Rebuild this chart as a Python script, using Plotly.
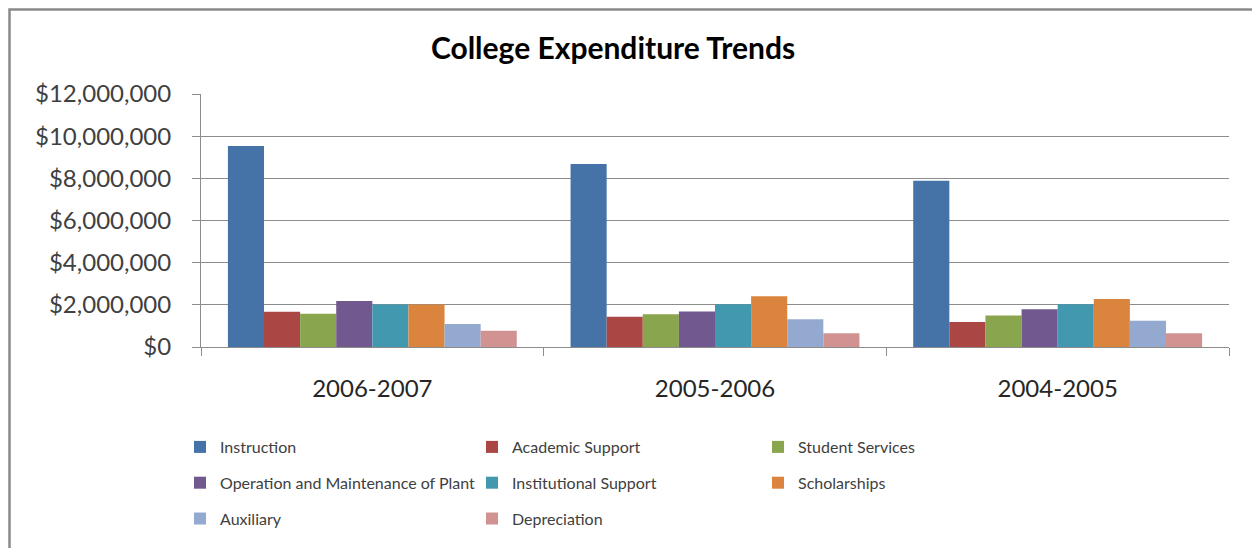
import plotly.graph_objects as go

years = ["2006-2007", "2005-2006", "2004-2005"]
series_names = ["Instruction", "Academic Support", "Student Services",
                "Operation and Maintenance of Plant", "Institutional Support",
                "Scholarships", "Auxiliary", "Depreciation"]
instruction = [9530000, 8680000, 7880000]
academic_support = [1670000, 1440000, 1190000]
student_services = [1580000, 1550000, 1490000]
operation_plant = [2180000, 1680000, 1790000]
institutional_support = [2010000, 2030000, 2030000]
scholarships = [2010000, 2410000, 2280000]
auxiliary = [1090000, 1320000, 1250000]
depreciation = [770000, 650000, 650000]

values = [instruction, academic_support, student_services, operation_plant,
          institutional_support, scholarships, auxiliary, depreciation]
colors = ["#4572A7", "#AA4643", "#89A54E", "#71588F",
          "#4198AF", "#DB843D", "#93A9CF", "#D19392"]
legend_ids = ["legend", "legend2", "legend3", "legend", "legend2", "legend3", "legend", "legend2"]

FONT = "Lato"
fig = go.Figure()
for name, vals, col, lg in zip(series_names, values, colors, legend_ids):
    fig.add_trace(go.Bar(x=years, y=vals, name=name, marker_color=col,
                         marker_line_width=0, legend=lg, legendgroup=name))

# page body has an 8px margin: figure coordinates = page coordinates - 8
OFF = 8
W, H = 1260 - OFF, 548 - OFF
L, T = 201 - OFF, 94 - OFF
R = W - (1229 - OFF)
B = H - (347 - OFF)
pw = W - L - R
ph = H - T - B

def px_x(p):
    return (p - OFF - L) / pw

def px_y(p):
    return (H - B - (p - OFF)) / ph

def cx(p):
    return (p - OFF) / W

def cy(p):
    return 1 - (p - OFF) / H

legend_common = dict(orientation="v", yanchor="top", xanchor="left",
                     xref="container", yref="container",
                     font=dict(family=FONT, size=16, color="#404040"),
                     bgcolor="rgba(0,0,0,0)", tracegroupgap=12,
                     traceorder="grouped")

fig.update_layout(
    width=W, height=H,
    margin=dict(l=L, r=R, t=T, b=B, autoexpand=False),
    paper_bgcolor="white", plot_bgcolor="white",
    title=dict(text="<b>College Expenditure Trends</b>", x=cx(613),
               xanchor="center", y=cy(48), yanchor="middle",
               font=dict(family=FONT, size=30, color="black")),
    barmode="group", bargap=0.157, bargroupgap=0,
    legend=dict(x=cx(180), y=cy(430), **legend_common),
    legend2=dict(x=cx(472), y=cy(430), **legend_common),
    legend3=dict(x=cx(758), y=cy(430), **legend_common),
    showlegend=True,
    xaxis=dict(showline=True, linecolor="#8c8c8c", linewidth=1,
               ticks="outside", tickson="boundaries", ticklen=8, tickcolor="#8c8c8c",
               tickfont=dict(family=FONT, size=24, color="#262626"),
               ticklabelstandoff=20, showgrid=False),
    yaxis=dict(range=[0, 12000000], dtick=2000000, tickprefix="$", tickformat=",d",
               showline=True, linecolor="#8c8c8c", linewidth=1,
               ticks="outside", ticklen=8, tickcolor="#8c8c8c",
               showgrid=True, gridcolor="#8c8c8c", gridwidth=1,
               tickfont=dict(family=FONT, size=24, color="#404040"),
               ticklabelstandoff=16, zeroline=False),
    separators=".,",
    shapes=[dict(type="rect", xref="paper", yref="paper",
                 x0=px_x(OFF + 1.5), x1=px_x(1257), y0=px_y(OFF + 1.5), y1=px_y(620),
                 line=dict(color="#8a8a8a", width=2.5), fillcolor="rgba(0,0,0,0)",
                 layer="above")],
)

fig.write_html("out.html")
